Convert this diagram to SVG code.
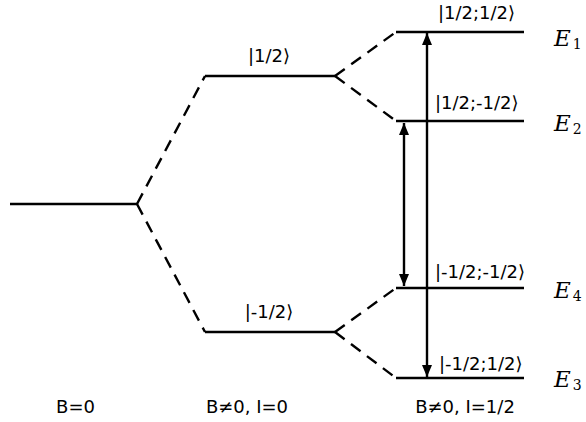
<svg xmlns="http://www.w3.org/2000/svg" width="586" height="422" viewBox="0 0 586 422">
  <style>
    .level { stroke: #000; stroke-width: 2.6; fill: none; }
    .split { stroke: #000; stroke-width: 2.4; fill: none; stroke-dasharray: 12 8; }
    .trans { stroke: #000; stroke-width: 2.4; fill: none; }
    .lbl { font-family: "DejaVu Sans", sans-serif; font-size: 18px; fill: #000; }
    .en { font-family: "DejaVu Serif", "Liberation Serif", serif; font-style: italic; font-size: 23px; fill: #000; }
    .sub { font-family: "DejaVu Serif", "Liberation Serif", serif; font-style: normal; font-size: 14px; fill: #000; }
  </style>
  <defs>
    <marker id="head" viewBox="0 0 12 14" refX="12" refY="7" markerWidth="12" markerHeight="14" markerUnits="userSpaceOnUse" orient="auto">
      <path d="M0,2 L12,7 L0,12 Z" fill="#000"/>
    </marker>
  </defs>

  <rect width="586" height="422" fill="#fff"/>

  <!-- zero-field level -->
  <g id="level-B0">
    <line class="level" x1="10" y1="204" x2="137" y2="204"/>
  </g>

  <!-- electron Zeeman levels -->
  <g id="level-up">
    <line class="level" x1="205" y1="76" x2="335" y2="76"/>
    <text class="lbl" x="269" y="62" text-anchor="middle">|1/2⟩</text>
  </g>
  <g id="level-down">
    <line class="level" x1="205" y1="332" x2="335" y2="332"/>
    <text class="lbl" x="269" y="318" text-anchor="middle">|-1/2⟩</text>
  </g>

  <!-- hyperfine levels -->
  <g id="level-E1">
    <line class="level" x1="396" y1="32" x2="524" y2="32"/>
    <text class="lbl" x="438" y="19">|1/2;1/2⟩</text>
    <text class="en" x="554" y="46">E<tspan class="sub" dx="2" dy="3">1</tspan></text>
  </g>
  <g id="level-E2">
    <line class="level" x1="396" y1="121" x2="524" y2="121"/>
    <text class="lbl" x="435" y="109">|1/2;-1/2⟩</text>
    <text class="en" x="554" y="131">E<tspan class="sub" dx="2" dy="3">2</tspan></text>
  </g>
  <g id="level-E4">
    <line class="level" x1="396" y1="288" x2="524" y2="288"/>
    <text class="lbl" x="435" y="278">|-1/2;-1/2⟩</text>
    <text class="en" x="554" y="298">E<tspan class="sub" dx="2" dy="3">4</tspan></text>
  </g>
  <g id="level-E3">
    <line class="level" x1="396" y1="378" x2="524" y2="378"/>
    <text class="lbl" x="439" y="370">|-1/2;1/2⟩</text>
    <text class="en" x="554" y="387">E<tspan class="sub" dx="2" dy="3">3</tspan></text>
  </g>

  <!-- splittings and transitions -->
  <g id="connectors">
    <line class="split" x1="137" y1="204" x2="205" y2="76"/>
    <line class="split" x1="137" y1="204" x2="205" y2="332"/>
    <line class="split" x1="335" y1="76" x2="396" y2="32"/>
    <line class="split" x1="335" y1="76" x2="396" y2="121"/>
    <line class="split" x1="335" y1="332" x2="396" y2="288"/>
    <line class="split" x1="335" y1="332" x2="396" y2="378"/>
    <line class="trans" x1="427" y1="205" x2="427" y2="33" marker-end="url(#head)"/>
    <line class="trans" x1="427" y1="205" x2="427" y2="377" marker-end="url(#head)"/>
    <line class="trans" x1="404" y1="205" x2="404" y2="123" marker-end="url(#head)"/>
    <line class="trans" x1="404" y1="205" x2="404" y2="286" marker-end="url(#head)"/>
  </g>

  <!-- field conditions -->
  <g id="captions">
    <text class="lbl" x="75.5" y="413" text-anchor="middle">B=0</text>
    <text class="lbl" x="247" y="413" text-anchor="middle">B≠0, I=0</text>
    <text class="lbl" x="465" y="413" text-anchor="middle">B≠0, I=1/2</text>
  </g>
</svg>
